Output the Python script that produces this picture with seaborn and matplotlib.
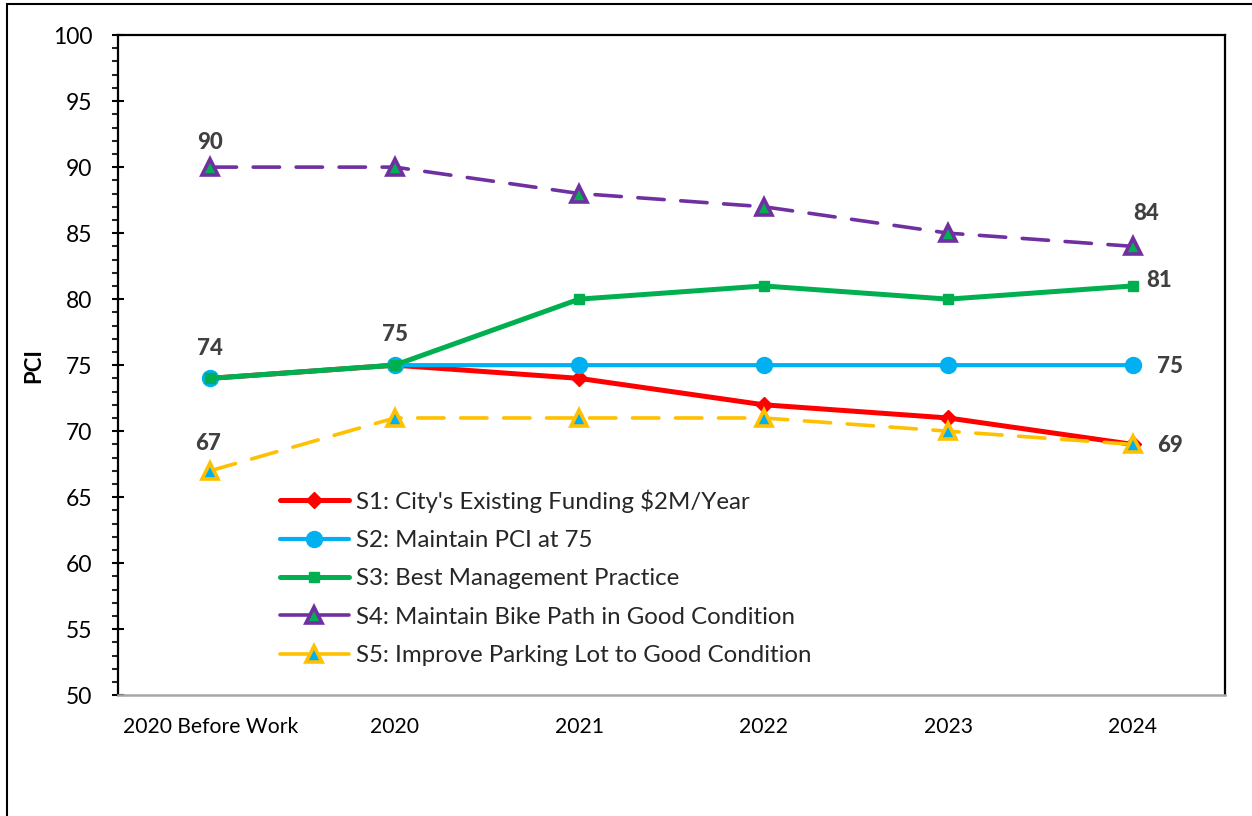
import numpy as np
import matplotlib
matplotlib.use("Agg")
import matplotlib.pyplot as plt
import seaborn as sns
from matplotlib.ticker import MultipleLocator
from matplotlib.lines import Line2D

# Data
years = ["2020 Before Work", "2020", "2021", "2022", "2023", "2024"]
s1 = [74, 75, 74, 72, 71, 69]
s2 = [74, 75, 75, 75, 75, 75]
s3 = [74, 75, 80, 81, 80, 81]
s4 = [90, 90, 88, 87, 85, 84]
s5 = [67, 71, 71, 71, 70, 69]
names = [
    "S1: City's Existing Funding $2M/Year",
    "S2: Maintain PCI at 75",
    "S3: Best Management Practice",
    "S4: Maintain Bike Path in Good Condition",
    "S5: Improve Parking Lot to Good Condition",
]

sns.set_theme(style="white")
plt.rcParams["font.family"] = ["Lato", "DejaVu Sans"]

fig = plt.figure(figsize=(12.52, 8.16), dpi=100)
ax = fig.add_axes([0.0942, 0.148, 0.8842, 0.809])

x = np.arange(len(years))

styles = [
    dict(color="#FF0000", marker="D", markersize=8, markerfacecolor="#FF0000",
         markeredgecolor="#FF0000", markeredgewidth=1, linewidth=3.6, linestyle="-"),
    dict(color="#00B0F0", marker="o", markersize=11.5, markerfacecolor="#00B0F0",
         markeredgecolor="#00B0F0", markeredgewidth=1, linewidth=3.0, linestyle="-"),
    dict(color="#00B050", marker="s", markersize=7, markerfacecolor="#00B050",
         markeredgecolor="#00B050", markeredgewidth=1, linewidth=3.6, linestyle="-"),
    dict(color="#7030A0", marker="^", markersize=11.5, markerfacecolor="#00B050",
         markeredgecolor="#7030A0", markeredgewidth=2.6, linewidth=2.6,
         linestyle=(0, (7.3, 4.6)), dash_capstyle="round"),
    dict(color="#FFC000", marker="^", markersize=11.5, markerfacecolor="#00B0F0",
         markeredgecolor="#FFC000", markeredgewidth=2.6, linewidth=2.6,
         linestyle=(0, (7.3, 4.6)), dash_capstyle="round"),
]

for vals, name, st in zip([s1, s2, s3, s4, s5], names, styles):
    sns.lineplot(x=x, y=vals, ax=ax, label=name, **st)

# data labels: (series, index, dx pt, dy pt)
series = [s1, s2, s3, s4, s5]
labels = [(3, 0, 0, 18), (1, 0, 0, 21.5), (4, 0, -1.5, 19.5), (1, 1, 0, 22),
          (3, 5, 10, 24), (2, 5, 19, 4), (1, 5, 26.5, -1), (4, 5, 26.5, -1)]
for si, idx, dx, dy in labels:
    v = series[si][idx]
    ax.annotate(str(v), (x[idx], v), xytext=(dx, dy), textcoords="offset points",
                ha="center", va="center", fontsize=16, fontweight="black",
                color="#404040")

ax.set_xlim(-0.5, len(years) - 0.5)
ax.set_ylim(50, 100)
ax.set_xticks(x)
ax.set_xticklabels(years, fontsize=15.2, color="black")
ax.yaxis.set_major_locator(MultipleLocator(5))
ax.yaxis.set_minor_locator(MultipleLocator(1))
ax.tick_params(axis="y", which="major", direction="inout", length=9, width=1.5,
               pad=14, labelsize=16.5, colors="black", left=True)
ax.tick_params(axis="y", which="minor", direction="out", length=4, width=1.5,
               left=True)
ax.tick_params(axis="x", length=0, pad=16)
ax.set_ylabel("PCI", fontsize=16, fontweight="bold", labelpad=6, color="black")
ax.set_xlabel("")

for side in ["left", "top", "right"]:
    ax.spines[side].set_color("black")
    ax.spines[side].set_linewidth(1.6)
ax.spines["bottom"].set_color("#A6A6A6")
ax.spines["bottom"].set_linewidth(1.8)

leg = ax.legend(loc="upper left", bbox_to_anchor=(0.146, 0.312), frameon=False,
                fontsize=17.3, handlelength=2.9, handletextpad=0.3,
                labelspacing=0.72, borderpad=0, borderaxespad=0)
for line in leg.get_lines():
    line.set_linestyle("-")

# outer chart frame
fig.add_artist(Line2D([0.0056, 1.0], [0.995, 0.995], color="black", lw=1.5))
fig.add_artist(Line2D([0.0056, 0.0056], [0.0, 0.995], color="black", lw=1.5))

fig.savefig("out.png", dpi=100)
